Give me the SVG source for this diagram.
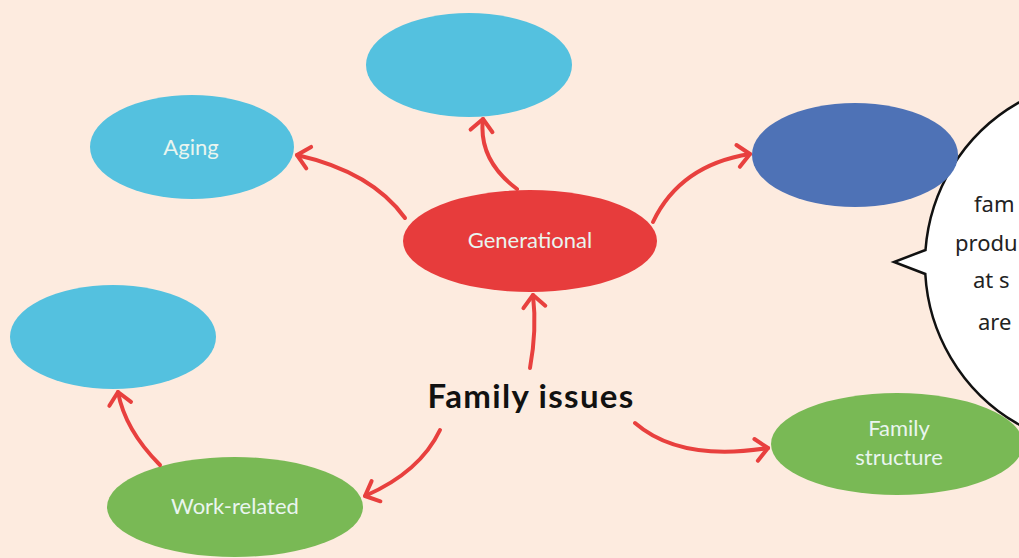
<svg xmlns="http://www.w3.org/2000/svg" width="1019" height="558" viewBox="0 0 1019 558">
<style>
.lbl{font-family:Lato,"Open Sans","Liberation Sans",sans-serif;font-size:22px;fill:#e9f5ef;text-anchor:middle}
.conn path{fill:none;stroke:#e8403e;stroke-width:4;stroke-linecap:round;marker-end:url(#chev)}
.lb{fill:#54c1df}
.hand{font-family:"Noto Sans","DejaVu Sans",sans-serif;font-size:22px;fill:#222}
</style>
<defs>
<marker id="chev" viewBox="-16 -14 20 28" markerWidth="20" markerHeight="28" refX="0" refY="0" orient="auto" markerUnits="userSpaceOnUse">
<path d="M-12,-11 L0,0 L-12,11" fill="none" stroke="#e8403e" stroke-width="4" stroke-linecap="round" stroke-linejoin="round"/>
</marker>
</defs>
<rect width="1019" height="558" fill="#fdebdf"/>
<g id="bubble">
<path d="M925.5,250 L894,262 L925.3,274 A185,185 0 1 0 925.5,250 Z" fill="#ffffff" stroke="#111" stroke-width="2.5" stroke-linejoin="miter"/>
<text class="hand" x="974" y="212">fam</text>
<text class="hand" x="955" y="251">produ</text>
<text class="hand" x="973" y="288">at s</text>
<text class="hand" x="978" y="330">are</text>
</g>
<g id="node-top"><ellipse class="lb" cx="469" cy="65" rx="103" ry="52"/></g>
<g id="node-aging"><ellipse class="lb" cx="192" cy="147" rx="102" ry="52"/><text class="lbl" x="191" y="155">Aging</text></g>
<g id="node-darkblue"><ellipse cx="855" cy="155" rx="103" ry="52" fill="#4e72b6"/></g>
<g id="node-left"><ellipse class="lb" cx="113" cy="337" rx="103" ry="52"/></g>
<g id="node-generational"><ellipse cx="530" cy="241" rx="127" ry="51" fill="#e73c3c"/><text class="lbl" x="530" y="248">Generational</text></g>
<g id="node-work"><ellipse cx="235" cy="507" rx="128" ry="50" fill="#79b955"/><text class="lbl" x="235" y="514">Work-related</text></g>
<g id="node-structure"><ellipse cx="897" cy="444" rx="126" ry="51" fill="#79b955"/><text class="lbl" x="899" y="436">Family</text><text class="lbl" x="899" y="465">structure</text></g>
<g id="node-center"><text x="531" y="408" font-family="Lato,'Open Sans','Liberation Sans',sans-serif" font-weight="bold" font-size="33" letter-spacing="1.3" fill="#111" text-anchor="middle">Family issues</text></g>
<g class="conn" id="connectors">
<path d="M530,368 Q537,330 533,295"/>
<path d="M517,189 Q478,160 483,119"/>
<path d="M405,218 Q372,172 297,155"/>
<path d="M653,222 Q680,165 750,154"/>
<path d="M440,430 Q420,472 365,496"/>
<path d="M160,465 Q125,430 118,392"/>
<path d="M635,423 Q680,462 768,448"/>
</g>
</svg>
